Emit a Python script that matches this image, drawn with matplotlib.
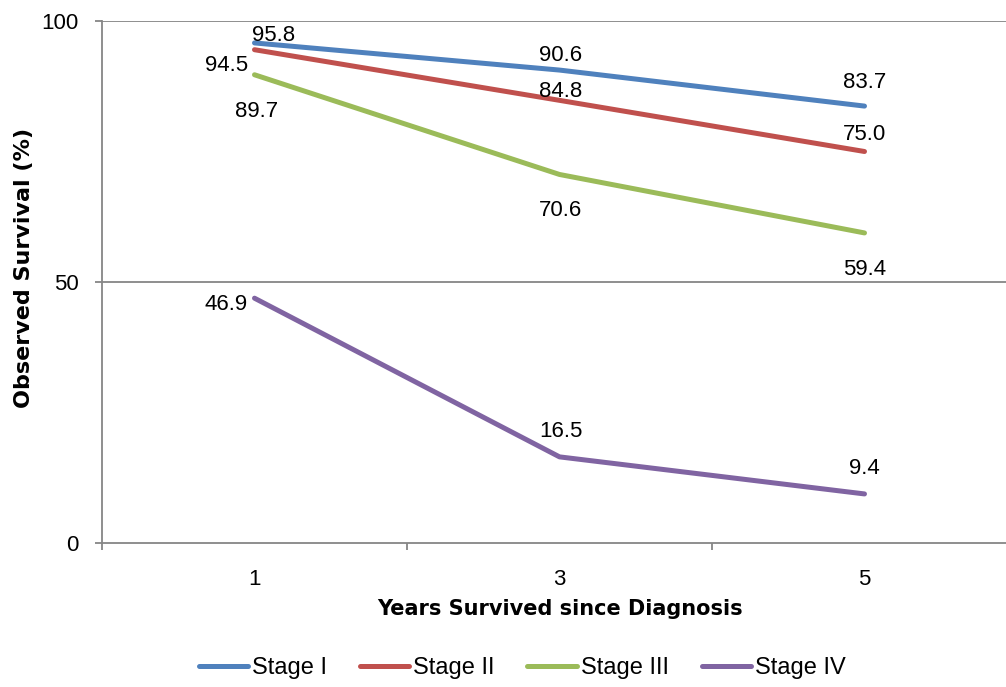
import matplotlib
matplotlib.use("Agg")
import matplotlib.pyplot as plt

plt.rcParams["font.family"] = ["Liberation Sans", "DejaVu Sans"]

years = ["1", "3", "5"]
stages = ["Stage I", "Stage II", "Stage III", "Stage IV"]
stage_i = [95.8, 90.6, 83.7]
stage_ii = [94.5, 84.8, 75.0]
stage_iii = [89.7, 70.6, 59.4]
stage_iv = [46.9, 16.5, 9.4]
series = [stage_i, stage_ii, stage_iii, stage_iv]

colors = ["#4F81BD", "#C0504D", "#9BBB59", "#8064A2"]
# label offsets (pixels, relative to each point, baseline-aligned)
label_offsets = [
    [(19, 2), (1, 9), (0, 18)],
    [(-28, -21), (1, 3), (0, 12)],
    [(2, -42), (1, -42), (0, -42)],
    [(-28, -12), (1, 20), (0, 20)],
]

W, H = 1006, 687
fig = plt.figure(figsize=(W / 100, H / 100), dpi=100)
left, right, top, bottom = 102, 1017, 21, 543
ax = fig.add_axes([left / W, 1 - bottom / H, (right - left) / W, (bottom - top) / H])

x = list(range(len(years)))
for vals, name, col, offs in zip(series, stages, colors, label_offsets):
    ax.plot(x, vals, color=col, lw=3.6, solid_capstyle="round",
            solid_joinstyle="round", label=name)
    for xi, v, (dx, dy) in zip(x, vals, offs):
        ax.annotate(f"{v:.1f}", (xi, v), xytext=(dx, dy),
                    textcoords="offset pixels", ha="center", va="baseline",
                    fontsize=16, color="black")

ax.set_xlim(-0.5, len(years) - 0.5)
ax.set_ylim(0, 100)
ax.set_yticks([0, 50, 100])
ax.set_xticks(x)
ax.set_xticklabels(years)
ax.set_xticks([i - 0.5 for i in range(len(years) + 1)], minor=True)

grid_col = "#868686"
for yv in [50, 100]:
    ax.axhline(yv, color=grid_col, lw=1.3, zorder=0)

for s in ["top", "right"]:
    ax.spines[s].set_visible(False)
for s in ["left", "bottom"]:
    ax.spines[s].set_color(grid_col)
    ax.spines[s].set_linewidth(1.3)

ax.tick_params(axis="y", length=5, width=1.3, color=grid_col, labelsize=16, pad=12)
ax.tick_params(axis="x", which="major", length=0, labelsize=16, pad=19)
ax.tick_params(axis="x", which="minor", length=5, width=1.3, color=grid_col)

title_font = dict(family="DejaVu Sans", fontweight="bold")
ax.set_ylabel("Observed Survival (%)", fontsize=16, **title_font)
ax.set_xlabel("Years Survived since Diagnosis", fontsize=15, **title_font)
ax.xaxis.set_label_coords((560 - left) / (right - left), -(599 - bottom) / (bottom - top))
ax.yaxis.set_label_coords(-(102 - 34) / (right - left), (bottom - 268) / (bottom - top))

handles, labels = ax.get_legend_handles_labels()
fig.legend(handles, labels, loc="center", bbox_to_anchor=(522 / W, 1 - 668 / H),
           ncol=4, frameon=False, fontsize=17, handlelength=2.1,
           handletextpad=0.15, columnspacing=1.4)

fig.savefig("out.png", dpi=100)
